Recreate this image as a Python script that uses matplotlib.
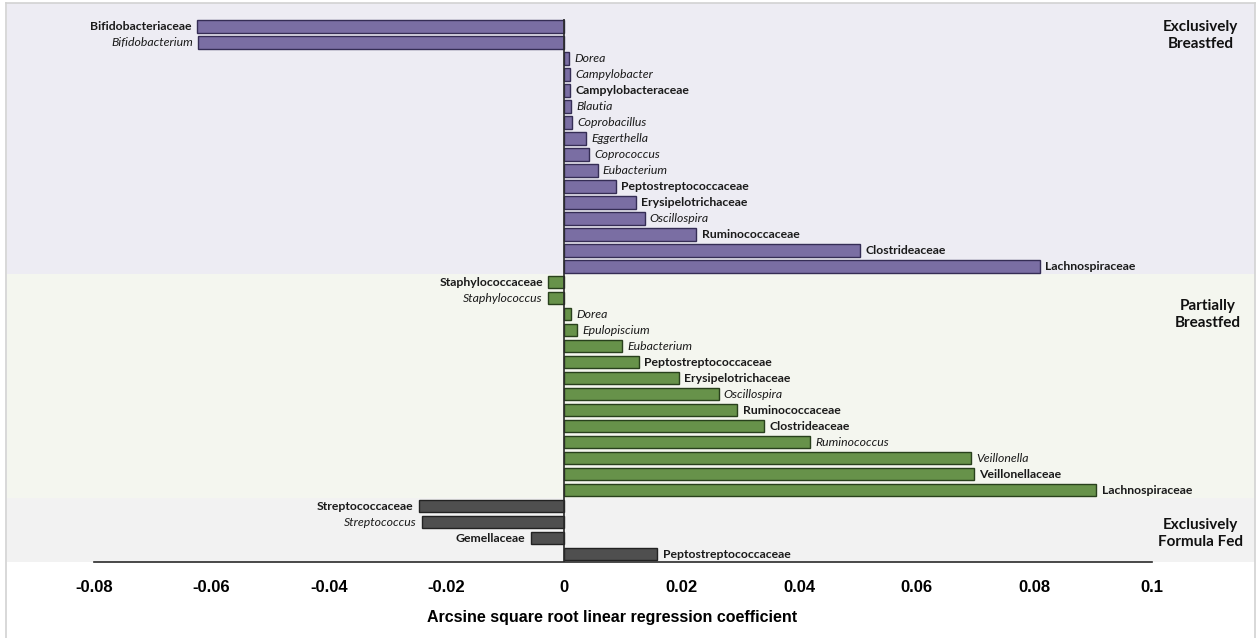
import matplotlib.pyplot as plt
from matplotlib.patches import Rectangle
from matplotlib.lines import Line2D
import numpy as np

# taxa and coefficients per feeding group, top to bottom
ebf_taxa = ['Bifidobacteriaceae', 'Bifidobacterium', 'Dorea', 'Campylobacter',
            'Campylobacteraceae', 'Blautia', 'Coprobacillus', 'Eggerthella',
            'Coprococcus', 'Eubacterium', 'Peptostreptococcaceae',
            'Erysipelotrichaceae', 'Oscillospira', 'Ruminococcaceae',
            'Clostrideaceae', 'Lachnospiraceae']
ebf_coef = [-0.0625, -0.0623, 0.00085, 0.0010, 0.0010, 0.0012, 0.0014, 0.0037,
            0.0043, 0.0057, 0.0088, 0.0122, 0.0137, 0.0225, 0.0504, 0.0810]

pbf_taxa = ['Staphylococcaceae', 'Staphylococcus', 'Dorea', 'Epulopiscium',
            'Eubacterium', 'Peptostreptococcaceae', 'Erysipelotrichaceae',
            'Oscillospira', 'Ruminococcaceae', 'Clostrideaceae', 'Ruminococcus',
            'Veillonella', 'Veillonellaceae', 'Lachnospiraceae']
pbf_coef = [-0.0027, -0.0027, 0.0012, 0.0022, 0.0099, 0.0127, 0.0196, 0.0263,
            0.0295, 0.0341, 0.0419, 0.0693, 0.0698, 0.0906]

eff_taxa = ['Streptococcaceae', 'Streptococcus', 'Gemellaceae',
            'Peptostreptococcaceae']
eff_coef = [-0.0247, -0.0242, -0.0057, 0.0159]

groups = ['Exclusively\nBreastfed', 'Partially\nBreastfed', 'Exclusively\nFormula Fed']
xticks = [-0.08, -0.06, -0.04, -0.02, 0, 0.02, 0.04, 0.06, 0.08, 0.1]
xtick_labels = ['-0.08', '-0.06', '-0.04', '-0.02', '0', '0.02', '0.04', '0.06', '0.08', '0.1']

bar_colors = ['#7a6ea3', '#67924a', '#4f4f4f']
edge_colors = ['#352d55', '#28401c', '#222222']
band_colors = ['#edecf3', '#f4f6ef', '#f2f2f2']
# group caption placement: x in data units, y in rows from the band's first row
caption_x = [0.1083, 0.1096, 0.1083]
caption_rows = [0.6, 2.05, 1.7]

W, H = 1257, 638
fig = plt.figure(figsize=(W / 100, H / 100), dpi=100)
fig.patch.set_facecolor('white')
ax = fig.add_axes([7 / W, 1 - 562 / H, 1248 / W, 559 / H])

xmin, xmax = -0.0948, 0.1176
ymin, ymax = -1.44, 33.5
ax.set_xlim(xmin, xmax)
ax.set_ylim(ymax, ymin)

sets = [(ebf_taxa, ebf_coef), (pbf_taxa, pbf_coef), (eff_taxa, eff_coef)]
start = 0
for g, (taxa, coef) in enumerate(sets):
    n = len(taxa)
    rows = np.arange(start, start + n)
    top = ymin if g == 0 else start - 0.5
    bottom = ymax if g == 2 else start + n - 0.5
    ax.add_patch(Rectangle((xmin, top), xmax - xmin, bottom - top,
                           facecolor=band_colors[g], edgecolor='none', zorder=0))
    ax.barh(rows, coef, height=0.81, color=bar_colors[g],
            edgecolor=edge_colors[g], linewidth=1.0, zorder=2)
    for r, name, v in zip(rows, taxa, coef):
        family = name.endswith('aceae')
        ax.text(v + (0.0009 if v > 0 else -0.0009), r, name,
                ha='left' if v > 0 else 'right', va='center',
                fontsize=8.8, family='Lato', color='#1a1a1a',
                fontweight='bold' if family else 'normal',
                fontstyle='normal' if family else 'italic', zorder=3)
    ax.text(caption_x[g], start + caption_rows[g], groups[g],
            ha='center', va='center', fontsize=11, family='Lato',
            fontweight='bold', color='#111111', linespacing=1.3, zorder=3)
    start += n

# zero line
ax.plot([0, 0], [-0.45, ymax], color='#2a2a2a', lw=1.2, zorder=4,
        solid_capstyle='butt')

for s in ['top', 'right', 'left']:
    ax.spines[s].set_visible(False)
ax.spines['bottom'].set_bounds(-0.08, 0.1)
ax.spines['bottom'].set_color('#2a2a2a')
ax.spines['bottom'].set_linewidth(1.2)
ax.spines['bottom'].set_zorder(5)
ax.set_yticks([])
ax.set_xticks(xticks)
ax.set_xticklabels(xtick_labels, fontsize=12, fontweight='bold',
                   family='Liberation Sans')
ax.tick_params(axis='x', length=0, pad=13)

ax.set_xlabel('Arcsine square root linear regression coefficient',
              fontsize=11.5, fontweight='bold', family='Liberation Sans')
ax.xaxis.set_label_coords((612 - 7) / 1248, -48 / 559)

# light frame around the figure
for xs, ys in [([6, 6], [0, H - 3]), ([6, 1255], [H - 3, H - 3]),
               ([1255, 1255], [0, H - 3])]:
    fig.add_artist(Line2D(np.array(xs) / W, np.array(ys) / H,
                          color='#d2d2d2', lw=1.2))

fig.savefig('out.png', dpi=100)
